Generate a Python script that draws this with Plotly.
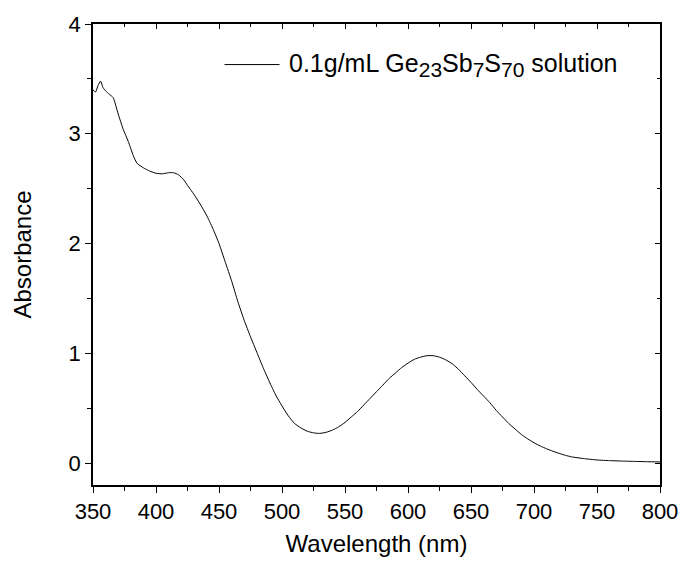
import plotly.graph_objects as go

# UV-Vis absorption spectrum
wavelength_nm = [
    350, 352, 354, 356, 358, 360, 363, 366, 370, 374, 378, 382, 385, 390, 395,
    400, 405, 410, 414, 418, 422, 425, 430, 435, 440, 445, 450, 455, 460, 465,
    470, 475, 480, 485, 490, 495, 500, 505, 510, 515, 520, 525, 530, 535, 540,
    545, 550, 555, 560, 565, 570, 575, 580, 585, 590, 595, 600, 605, 610, 615,
    620, 625, 630, 635, 640, 645, 650, 655, 660, 665, 670, 675, 680, 685, 690,
    695, 700, 705, 710, 715, 720, 725, 730, 740, 750, 760, 770, 780, 790, 800,
]
absorbance = [
    3.40, 3.38, 3.44, 3.48, 3.42, 3.39, 3.36, 3.33, 3.18, 3.04, 2.93, 2.80, 2.73, 2.69, 2.66,
    2.64, 2.635, 2.645, 2.645, 2.625, 2.58, 2.53, 2.45, 2.36, 2.26, 2.14, 2.00, 1.83, 1.66, 1.47,
    1.30, 1.15, 1.01, 0.87, 0.74, 0.62, 0.52, 0.43, 0.36, 0.32, 0.29, 0.275, 0.27, 0.28, 0.30,
    0.33, 0.37, 0.42, 0.47, 0.53, 0.59, 0.65, 0.71, 0.77, 0.82, 0.87, 0.91, 0.945, 0.965, 0.978,
    0.978, 0.965, 0.94, 0.905, 0.855, 0.795, 0.735, 0.67, 0.61, 0.55, 0.48, 0.42, 0.36, 0.31, 0.26,
    0.22, 0.185, 0.155, 0.13, 0.108, 0.088, 0.07, 0.056, 0.04, 0.028, 0.022, 0.018, 0.015, 0.012, 0.010,
]

SUB = '<sub><span style="font-size:21px">{}</span></sub>'
series_label = ("0.1g/mL Ge" + SUB.format("23") + "Sb" + SUB.format("7")
                + "S" + SUB.format("70") + " solution")
x_title = "Wavelength (nm)"
y_title = "Absorbance"

FONT = "Liberation Sans, Arial, sans-serif"
X_RANGE = [350, 800]
Y_RANGE = [-0.2, 4]

fig = go.Figure()
fig.add_trace(go.Scatter(
    x=wavelength_nm, y=absorbance, mode="lines",
    line=dict(color="black", width=1, shape="spline", smoothing=0.5),
    showlegend=False,
))
# empty trace to anchor the top/right frame axes
fig.add_trace(go.Scatter(x=[], y=[], xaxis="x2", yaxis="y2", showlegend=False))

common = dict(
    showgrid=False, zeroline=False, linecolor="black", linewidth=1.5,
    tickcolor="black", tickwidth=1.2,
    tickfont=dict(family=FONT, size=22, color="black"),
)

fig.update_layout(
    width=690, height=565,
    margin=dict(l=93, r=21, t=18, b=78),
    plot_bgcolor="white", paper_bgcolor="white",
    font=dict(family=FONT, color="black"),
    xaxis=dict(
        range=X_RANGE, dtick=50, tick0=350, ticks="outside", ticklen=6,
        minor=dict(dtick=25, ticks="outside", ticklen=4, tickcolor="black", tickwidth=1.2),
        title=dict(text=x_title, font=dict(size=24, family=FONT), standoff=12),
        **common,
    ),
    yaxis=dict(
        range=Y_RANGE, dtick=1, tick0=0, ticks="outside", ticklen=6,
        minor=dict(dtick=0.5, ticks="outside", ticklen=4, tickcolor="black", tickwidth=1.2),
        title=dict(text=y_title, font=dict(size=24, family=FONT), standoff=30),
        **common,
    ),
    xaxis2=dict(
        range=X_RANGE, dtick=50, tick0=350, ticks="inside", ticklen=5,
        minor=dict(dtick=25, ticks="inside", ticklen=3, tickcolor="black", tickwidth=1.2),
        overlaying="x", side="top", showticklabels=False, anchor="y2",
        **common,
    ),
    yaxis2=dict(
        range=Y_RANGE, dtick=1, tick0=0, ticks="inside", ticklen=5,
        minor=dict(dtick=0.5, ticks="inside", ticklen=3, tickcolor="black", tickwidth=1.2),
        overlaying="y", side="right", showticklabels=False, anchor="x2",
        **common,
    ),
)

# legend: sample line plus label
fig.add_shape(type="line", xref="paper", yref="paper",
              x0=0.232, x1=0.329, y0=0.912, y1=0.912,
              line=dict(color="black", width=1))
fig.add_annotation(xref="paper", yref="paper", x=0.343, y=0.912,
                   xanchor="left", yanchor="middle", showarrow=False,
                   text=series_label, font=dict(family=FONT, size=25, color="black"))

fig.write_html("out.html")
